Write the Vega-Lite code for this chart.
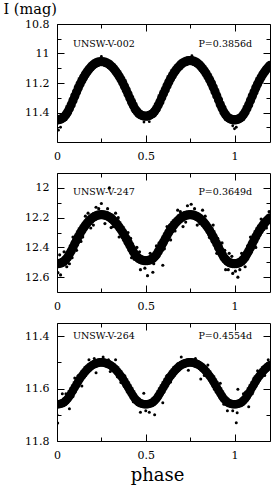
{
"$schema": "https://vega.github.io/schema/vega-lite/v6.json",
"padding": {"left": 2, "top": 0, "right": 4, "bottom": 0},
"bounds": "flush",
"spacing": 31,
"config": {
 "view": {"stroke": "black", "strokeWidth": 1},
 "axis": {"domain": false, "grid": false, "tickColor": "black", "tickWidth": 1, "labelColor": "black", "labelFont": "DejaVu Serif", "labelFontSize": 11, "labelFlush": false, "titleColor": "black", "titleFont": "DejaVu Serif", "titleFontWeight": "normal"},
 "text": {"font": "DejaVu Serif"}
},
"datasets": {
 "core1": [
  {"phase":0,"mag":11.450},{"phase":0.01,"mag":11.449},{"phase":0.02,"mag":11.445},{"phase":0.03,"mag":11.439},{"phase":0.04,"mag":11.430},{"phase":0.05,"mag":11.415},{"phase":0.06,"mag":11.397},{"phase":0.07,"mag":11.373},{"phase":0.08,"mag":11.347},{"phase":0.09,"mag":11.318},{"phase":0.10,"mag":11.289},{"phase":0.11,"mag":11.261},{"phase":0.12,"mag":11.233},{"phase":0.13,"mag":11.207},{"phase":0.14,"mag":11.183},{"phase":0.15,"mag":11.161},{"phase":0.16,"mag":11.140},{"phase":0.17,"mag":11.123},{"phase":0.18,"mag":11.107},{"phase":0.19,"mag":11.093},{"phase":0.20,"mag":11.081},{"phase":0.21,"mag":11.071},{"phase":0.22,"mag":11.064},{"phase":0.23,"mag":11.059},{"phase":0.24,"mag":11.056},{"phase":0.25,"mag":11.055},
  {"phase":0.26,"mag":11.056},{"phase":0.27,"mag":11.059},{"phase":0.28,"mag":11.064},{"phase":0.29,"mag":11.070},{"phase":0.30,"mag":11.079},{"phase":0.31,"mag":11.090},{"phase":0.32,"mag":11.103},{"phase":0.33,"mag":11.118},{"phase":0.34,"mag":11.135},{"phase":0.35,"mag":11.154},{"phase":0.36,"mag":11.174},{"phase":0.37,"mag":11.197},{"phase":0.38,"mag":11.222},{"phase":0.39,"mag":11.248},{"phase":0.40,"mag":11.274},{"phase":0.41,"mag":11.301},{"phase":0.42,"mag":11.328},{"phase":0.43,"mag":11.352},{"phase":0.44,"mag":11.376},{"phase":0.45,"mag":11.392},{"phase":0.46,"mag":11.406},{"phase":0.47,"mag":11.415},{"phase":0.48,"mag":11.421},{"phase":0.49,"mag":11.424},{"phase":0.50,"mag":11.425},
  {"phase":0.51,"mag":11.424},{"phase":0.52,"mag":11.420},{"phase":0.53,"mag":11.414},{"phase":0.54,"mag":11.406},{"phase":0.55,"mag":11.392},{"phase":0.56,"mag":11.375},{"phase":0.57,"mag":11.351},{"phase":0.58,"mag":11.327},{"phase":0.59,"mag":11.299},{"phase":0.60,"mag":11.271},{"phase":0.61,"mag":11.245},{"phase":0.62,"mag":11.218},{"phase":0.63,"mag":11.193},{"phase":0.64,"mag":11.170},{"phase":0.65,"mag":11.149},{"phase":0.66,"mag":11.129},{"phase":0.67,"mag":11.112},{"phase":0.68,"mag":11.097},{"phase":0.69,"mag":11.084},{"phase":0.70,"mag":11.072},{"phase":0.71,"mag":11.063},{"phase":0.72,"mag":11.057},{"phase":0.73,"mag":11.052},{"phase":0.74,"mag":11.049},{"phase":0.75,"mag":11.048},
  {"phase":0.76,"mag":11.049},{"phase":0.77,"mag":11.052},{"phase":0.78,"mag":11.057},{"phase":0.79,"mag":11.064},{"phase":0.80,"mag":11.074},{"phase":0.81,"mag":11.086},{"phase":0.82,"mag":11.101},{"phase":0.83,"mag":11.117},{"phase":0.84,"mag":11.135},{"phase":0.85,"mag":11.156},{"phase":0.86,"mag":11.178},{"phase":0.87,"mag":11.202},{"phase":0.88,"mag":11.229},{"phase":0.89,"mag":11.258},{"phase":0.90,"mag":11.286},{"phase":0.91,"mag":11.316},{"phase":0.92,"mag":11.345},{"phase":0.93,"mag":11.371},{"phase":0.94,"mag":11.397},{"phase":0.95,"mag":11.415},{"phase":0.96,"mag":11.430},{"phase":0.97,"mag":11.439},{"phase":0.98,"mag":11.445},{"phase":0.99,"mag":11.449},{"phase":1.00,"mag":11.450},
  {"phase":1.01,"mag":11.449},{"phase":1.02,"mag":11.445},{"phase":1.03,"mag":11.439},{"phase":1.04,"mag":11.430},{"phase":1.05,"mag":11.415},{"phase":1.06,"mag":11.397},{"phase":1.07,"mag":11.373},{"phase":1.08,"mag":11.347},{"phase":1.09,"mag":11.318},{"phase":1.10,"mag":11.289},{"phase":1.11,"mag":11.261},{"phase":1.12,"mag":11.233},{"phase":1.13,"mag":11.207},{"phase":1.14,"mag":11.183},{"phase":1.15,"mag":11.161},{"phase":1.16,"mag":11.140},{"phase":1.17,"mag":11.123},{"phase":1.18,"mag":11.107},{"phase":1.19,"mag":11.093},{"phase":1.20,"mag":11.081}
 ],
 "scat1": [
  {"phase":0,"mag":11.51},{"phase":0.008,"mag":11.52},{"phase":0.02,"mag":11.50},{"phase":0.49,"mag":11.465},{"phase":0.52,"mag":11.462},{"phase":0.99,"mag":11.49},{"phase":1.0,"mag":11.51},{"phase":1.01,"mag":11.50},{"phase":0.25,"mag":11.02},{"phase":0.76,"mag":11.015}
 ],
 "core2": [
  {"phase":0,"mag":12.510},{"phase":0.01,"mag":12.509},{"phase":0.02,"mag":12.506},{"phase":0.03,"mag":12.501},{"phase":0.04,"mag":12.493},{"phase":0.05,"mag":12.481},{"phase":0.06,"mag":12.466},{"phase":0.07,"mag":12.445},{"phase":0.08,"mag":12.424},{"phase":0.09,"mag":12.400},{"phase":0.10,"mag":12.375},{"phase":0.11,"mag":12.352},{"phase":0.12,"mag":12.329},{"phase":0.13,"mag":12.307},{"phase":0.14,"mag":12.287},{"phase":0.15,"mag":12.268},{"phase":0.16,"mag":12.251},{"phase":0.17,"mag":12.236},{"phase":0.18,"mag":12.223},{"phase":0.19,"mag":12.211},{"phase":0.20,"mag":12.201},{"phase":0.21,"mag":12.194},{"phase":0.22,"mag":12.188},{"phase":0.23,"mag":12.183},{"phase":0.24,"mag":12.181},{"phase":0.25,"mag":12.180},
  {"phase":0.26,"mag":12.181},{"phase":0.27,"mag":12.183},{"phase":0.28,"mag":12.187},{"phase":0.29,"mag":12.193},{"phase":0.30,"mag":12.200},{"phase":0.31,"mag":12.209},{"phase":0.32,"mag":12.221},{"phase":0.33,"mag":12.233},{"phase":0.34,"mag":12.247},{"phase":0.35,"mag":12.263},{"phase":0.36,"mag":12.280},{"phase":0.37,"mag":12.299},{"phase":0.38,"mag":12.320},{"phase":0.39,"mag":12.342},{"phase":0.40,"mag":12.364},{"phase":0.41,"mag":12.386},{"phase":0.42,"mag":12.409},{"phase":0.43,"mag":12.429},{"phase":0.44,"mag":12.449},{"phase":0.45,"mag":12.463},{"phase":0.46,"mag":12.474},{"phase":0.47,"mag":12.481},{"phase":0.48,"mag":12.486},{"phase":0.49,"mag":12.489},{"phase":0.50,"mag":12.490},
  {"phase":0.51,"mag":12.489},{"phase":0.52,"mag":12.486},{"phase":0.53,"mag":12.481},{"phase":0.54,"mag":12.474},{"phase":0.55,"mag":12.463},{"phase":0.56,"mag":12.449},{"phase":0.57,"mag":12.429},{"phase":0.58,"mag":12.409},{"phase":0.59,"mag":12.386},{"phase":0.60,"mag":12.364},{"phase":0.61,"mag":12.342},{"phase":0.62,"mag":12.320},{"phase":0.63,"mag":12.299},{"phase":0.64,"mag":12.280},{"phase":0.65,"mag":12.263},{"phase":0.66,"mag":12.247},{"phase":0.67,"mag":12.233},{"phase":0.68,"mag":12.221},{"phase":0.69,"mag":12.209},{"phase":0.70,"mag":12.200},{"phase":0.71,"mag":12.193},{"phase":0.72,"mag":12.187},{"phase":0.73,"mag":12.183},{"phase":0.74,"mag":12.181},{"phase":0.75,"mag":12.180},
  {"phase":0.76,"mag":12.181},{"phase":0.77,"mag":12.183},{"phase":0.78,"mag":12.188},{"phase":0.79,"mag":12.194},{"phase":0.80,"mag":12.201},{"phase":0.81,"mag":12.211},{"phase":0.82,"mag":12.223},{"phase":0.83,"mag":12.236},{"phase":0.84,"mag":12.251},{"phase":0.85,"mag":12.268},{"phase":0.86,"mag":12.287},{"phase":0.87,"mag":12.307},{"phase":0.88,"mag":12.329},{"phase":0.89,"mag":12.352},{"phase":0.90,"mag":12.375},{"phase":0.91,"mag":12.400},{"phase":0.92,"mag":12.424},{"phase":0.93,"mag":12.445},{"phase":0.94,"mag":12.466},{"phase":0.95,"mag":12.481},{"phase":0.96,"mag":12.493},{"phase":0.97,"mag":12.501},{"phase":0.98,"mag":12.506},{"phase":0.99,"mag":12.509},{"phase":1.00,"mag":12.510},
  {"phase":1.01,"mag":12.509},{"phase":1.02,"mag":12.506},{"phase":1.03,"mag":12.501},{"phase":1.04,"mag":12.493},{"phase":1.05,"mag":12.481},{"phase":1.06,"mag":12.466},{"phase":1.07,"mag":12.445},{"phase":1.08,"mag":12.424},{"phase":1.09,"mag":12.400},{"phase":1.10,"mag":12.375},{"phase":1.11,"mag":12.352},{"phase":1.12,"mag":12.329},{"phase":1.13,"mag":12.307},{"phase":1.14,"mag":12.287},{"phase":1.15,"mag":12.268},{"phase":1.16,"mag":12.251},{"phase":1.17,"mag":12.236},{"phase":1.18,"mag":12.223},{"phase":1.19,"mag":12.211},{"phase":1.20,"mag":12.201}
 ],
 "scat2": [
  {"phase":0.005,"mag":12.57},{"phase":0.02,"mag":12.585},{"phase":0.04,"mag":12.43},{"phase":0.07,"mag":12.51},{"phase":0.09,"mag":12.33},{"phase":0.11,"mag":12.42},{"phase":0.135,"mag":12.36},{"phase":0.16,"mag":12.19},{"phase":0.19,"mag":12.27},{"phase":0.22,"mag":12.13},{"phase":0.25,"mag":12.105},{"phase":0.27,"mag":12.24},{"phase":0.295,"mag":12.0},{"phase":0.305,"mag":12.267},{"phase":0.33,"mag":12.17},{"phase":0.35,"mag":12.33},{"phase":0.376,"mag":12.32},{"phase":0.40,"mag":12.30},{"phase":0.42,"mag":12.47},{"phase":0.45,"mag":12.40},{"phase":0.47,"mag":12.55},{"phase":0.51,"mag":12.59},{"phase":0.54,"mag":12.567},{"phase":0.56,"mag":12.39},{"phase":0.596,"mag":12.52},{"phase":0.62,"mag":12.26},{"phase":0.64,"mag":12.35},{"phase":0.68,"mag":12.15},{"phase":0.71,"mag":12.26},{"phase":0.735,"mag":12.12},{"phase":0.756,"mag":12.11},{"phase":0.79,"mag":12.25},{"phase":0.82,"mag":12.15},{"phase":0.859,"mag":12.333},{"phase":0.88,"mag":12.25},{"phase":0.90,"mag":12.44},{"phase":0.93,"mag":12.37},{"phase":0.95,"mag":12.55},{"phase":0.97,"mag":12.44},{"phase":0.99,"mag":12.575},{"phase":1.019,"mag":12.60},{"phase":1.04,"mag":12.44},{"phase":1.06,"mag":12.53},{"phase":1.09,"mag":12.33},{"phase":1.12,"mag":12.40},{"phase":1.15,"mag":12.21},{"phase":1.18,"mag":12.27},{"phase":1.195,"mag":12.16},
  {"phase":0.015,"mag":12.45},{"phase":0.055,"mag":12.53},{"phase":0.085,"mag":12.47},{"phase":0.125,"mag":12.28},{"phase":0.145,"mag":12.33},{"phase":0.175,"mag":12.17},{"phase":0.205,"mag":12.25},{"phase":0.235,"mag":12.14},{"phase":0.285,"mag":12.14},{"phase":0.315,"mag":12.26},{"phase":0.345,"mag":12.20},{"phase":0.385,"mag":12.37},{"phase":0.415,"mag":12.34},{"phase":0.435,"mag":12.48},{"phase":0.465,"mag":12.43},{"phase":0.495,"mag":12.54},{"phase":0.525,"mag":12.44},{"phase":0.545,"mag":12.51},{"phase":0.575,"mag":12.37},{"phase":0.605,"mag":12.41},{"phase":0.635,"mag":12.25},{"phase":0.665,"mag":12.29},{"phase":0.695,"mag":12.16},{"phase":0.725,"mag":12.23},{"phase":0.775,"mag":12.14},{"phase":0.805,"mag":12.24},{"phase":0.835,"mag":12.19},{"phase":0.875,"mag":12.36},{"phase":0.905,"mag":12.34},{"phase":0.925,"mag":12.47},{"phase":0.945,"mag":12.42},{"phase":0.965,"mag":12.55},{"phase":0.985,"mag":12.46},{"phase":1.005,"mag":12.56},{"phase":1.03,"mag":12.55},{"phase":1.075,"mag":12.39},{"phase":1.105,"mag":12.40},{"phase":1.135,"mag":12.26},{"phase":1.165,"mag":12.28},{"phase":1.185,"mag":12.19}
 ],
 "core3": [
  {"phase":0,"mag":11.660},{"phase":0.01,"mag":11.660},{"phase":0.02,"mag":11.658},{"phase":0.03,"mag":11.656},{"phase":0.04,"mag":11.652},{"phase":0.05,"mag":11.646},{"phase":0.06,"mag":11.639},{"phase":0.07,"mag":11.629},{"phase":0.08,"mag":11.618},{"phase":0.09,"mag":11.607},{"phase":0.10,"mag":11.595},{"phase":0.11,"mag":11.584},{"phase":0.12,"mag":11.572},{"phase":0.13,"mag":11.561},{"phase":0.14,"mag":11.552},{"phase":0.15,"mag":11.543},{"phase":0.16,"mag":11.535},{"phase":0.17,"mag":11.527},{"phase":0.18,"mag":11.521},{"phase":0.19,"mag":11.515},{"phase":0.20,"mag":11.510},{"phase":0.21,"mag":11.507},{"phase":0.22,"mag":11.504},{"phase":0.23,"mag":11.502},{"phase":0.24,"mag":11.500},{"phase":0.25,"mag":11.500},
  {"phase":0.26,"mag":11.500},{"phase":0.27,"mag":11.502},{"phase":0.28,"mag":11.504},{"phase":0.29,"mag":11.507},{"phase":0.30,"mag":11.510},{"phase":0.31,"mag":11.515},{"phase":0.32,"mag":11.521},{"phase":0.33,"mag":11.527},{"phase":0.34,"mag":11.535},{"phase":0.35,"mag":11.543},{"phase":0.36,"mag":11.552},{"phase":0.37,"mag":11.561},{"phase":0.38,"mag":11.572},{"phase":0.39,"mag":11.584},{"phase":0.40,"mag":11.595},{"phase":0.41,"mag":11.607},{"phase":0.42,"mag":11.618},{"phase":0.43,"mag":11.629},{"phase":0.44,"mag":11.639},{"phase":0.45,"mag":11.646},{"phase":0.46,"mag":11.652},{"phase":0.47,"mag":11.656},{"phase":0.48,"mag":11.658},{"phase":0.49,"mag":11.660},{"phase":0.50,"mag":11.660},
  {"phase":0.51,"mag":11.660},{"phase":0.52,"mag":11.658},{"phase":0.53,"mag":11.656},{"phase":0.54,"mag":11.652},{"phase":0.55,"mag":11.646},{"phase":0.56,"mag":11.639},{"phase":0.57,"mag":11.629},{"phase":0.58,"mag":11.618},{"phase":0.59,"mag":11.607},{"phase":0.60,"mag":11.595},{"phase":0.61,"mag":11.584},{"phase":0.62,"mag":11.572},{"phase":0.63,"mag":11.561},{"phase":0.64,"mag":11.552},{"phase":0.65,"mag":11.543},{"phase":0.66,"mag":11.535},{"phase":0.67,"mag":11.527},{"phase":0.68,"mag":11.521},{"phase":0.69,"mag":11.515},{"phase":0.70,"mag":11.510},{"phase":0.71,"mag":11.507},{"phase":0.72,"mag":11.504},{"phase":0.73,"mag":11.502},{"phase":0.74,"mag":11.500},{"phase":0.75,"mag":11.500},
  {"phase":0.76,"mag":11.500},{"phase":0.77,"mag":11.502},{"phase":0.78,"mag":11.504},{"phase":0.79,"mag":11.507},{"phase":0.80,"mag":11.510},{"phase":0.81,"mag":11.515},{"phase":0.82,"mag":11.521},{"phase":0.83,"mag":11.527},{"phase":0.84,"mag":11.535},{"phase":0.85,"mag":11.543},{"phase":0.86,"mag":11.552},{"phase":0.87,"mag":11.561},{"phase":0.88,"mag":11.572},{"phase":0.89,"mag":11.584},{"phase":0.90,"mag":11.595},{"phase":0.91,"mag":11.607},{"phase":0.92,"mag":11.618},{"phase":0.93,"mag":11.629},{"phase":0.94,"mag":11.639},{"phase":0.95,"mag":11.646},{"phase":0.96,"mag":11.652},{"phase":0.97,"mag":11.656},{"phase":0.98,"mag":11.658},{"phase":0.99,"mag":11.660},{"phase":1.00,"mag":11.660},
  {"phase":1.01,"mag":11.660},{"phase":1.02,"mag":11.658},{"phase":1.03,"mag":11.656},{"phase":1.04,"mag":11.652},{"phase":1.05,"mag":11.646},{"phase":1.06,"mag":11.639},{"phase":1.07,"mag":11.629},{"phase":1.08,"mag":11.618},{"phase":1.09,"mag":11.607},{"phase":1.10,"mag":11.595},{"phase":1.11,"mag":11.584},{"phase":1.12,"mag":11.572},{"phase":1.13,"mag":11.561},{"phase":1.14,"mag":11.552},{"phase":1.15,"mag":11.543},{"phase":1.16,"mag":11.535},{"phase":1.17,"mag":11.527},{"phase":1.18,"mag":11.521},{"phase":1.19,"mag":11.515},{"phase":1.20,"mag":11.510}
 ],
 "scat3": [
  {"phase":0.0,"mag":11.70},{"phase":0.004,"mag":11.731},{"phase":0.03,"mag":11.62},{"phase":0.07,"mag":11.677},{"phase":0.10,"mag":11.56},{"phase":0.14,"mag":11.59},{"phase":0.18,"mag":11.49},{"phase":0.22,"mag":11.54},{"phase":0.26,"mag":11.48},{"phase":0.30,"mag":11.535},{"phase":0.33,"mag":11.49},{"phase":0.36,"mag":11.577},{"phase":0.40,"mag":11.58},{"phase":0.446,"mag":11.641},{"phase":0.47,"mag":11.69},{"phase":0.489,"mag":11.618},{"phase":0.52,"mag":11.69},{"phase":0.55,"mag":11.70},{"phase":0.596,"mag":11.654},{"phase":0.62,"mag":11.55},{"phase":0.66,"mag":11.55},{"phase":0.70,"mag":11.48},{"phase":0.74,"mag":11.53},{"phase":0.78,"mag":11.485},{"phase":0.81,"mag":11.564},{"phase":0.85,"mag":11.51},{"phase":0.887,"mag":11.603},{"phase":0.92,"mag":11.58},{"phase":0.96,"mag":11.685},{"phase":1.01,"mag":11.73},{"phase":1.015,"mag":11.692},{"phase":1.019,"mag":11.603},{"phase":1.05,"mag":11.62},{"phase":1.08,"mag":11.669},{"phase":1.11,"mag":11.56},{"phase":1.13,"mag":11.532},{"phase":1.17,"mag":11.55},{"phase":1.19,"mag":11.49},
  {"phase":0.05,"mag":11.62},{"phase":0.09,"mag":11.63},{"phase":0.12,"mag":11.55},{"phase":0.16,"mag":11.55},{"phase":0.21,"mag":11.485},{"phase":0.29,"mag":11.49},{"phase":0.34,"mag":11.555},{"phase":0.38,"mag":11.55},{"phase":0.43,"mag":11.65},{"phase":0.50,"mag":11.685},{"phase":0.58,"mag":11.60},{"phase":0.64,"mag":11.575},{"phase":0.68,"mag":11.505},{"phase":0.83,"mag":11.55},{"phase":0.90,"mag":11.575},{"phase":0.94,"mag":11.66},{"phase":0.99,"mag":11.685},{"phase":1.06,"mag":11.615},{"phase":1.10,"mag":11.62},{"phase":1.16,"mag":11.52}
 ]
},
"vconcat": [
 {
  "width": 213, "height": 118,
  "resolve": {"scale": {"x": "independent", "y": "independent"}},
  "layer": [
   {"data": {"name": "core1"},
    "mark": {"type": "point", "filled": true, "shape": "circle", "size": 85, "opacity": 1, "color": "black", "strokeWidth": 0, "clip": true},
    "encoding": {
     "x": {"field": "phase", "type": "quantitative", "scale": {"domain": [0, 1.2], "nice": false, "zero": false}, "axis": {"orient": "bottom", "values": [0, 0.5, 1], "format": "~g", "tickSize": -7, "labelPadding": 15, "title": null}},
     "y": {"field": "mag", "type": "quantitative", "scale": {"domain": [10.8, 11.6], "reverse": true, "nice": false, "zero": false}, "axis": {"orient": "left", "values": [10.8, 11, 11.2, 11.4], "format": "~g", "tickSize": -7, "labelPadding": 15, "title": "I (mag)", "titleAngle": 0, "titleAlign": "left", "titleBaseline": "alphabetic", "titleX": -54, "titleY": -11, "titleFontSize": 14.5}}
    }},
   {"data": {"name": "scat1"},
    "mark": {"type": "point", "filled": true, "shape": "circle", "size": 8, "opacity": 1, "color": "black", "strokeWidth": 0, "clip": true},
    "encoding": {
     "x": {"field": "phase", "type": "quantitative", "scale": {"domain": [0, 1.2], "nice": false, "zero": false}, "axis": {"orient": "bottom", "values": [0.25, 0.75], "tickSize": -4, "labels": false, "title": null}},
     "y": {"field": "mag", "type": "quantitative", "scale": {"domain": [10.8, 11.6], "reverse": true, "nice": false, "zero": false}, "axis": {"orient": "left", "values": [10.9, 11.1, 11.3, 11.5], "tickSize": -4, "labels": false, "title": null}}
    }},
   {"data": {"values": [{"t": "UNSW-V-002"}]},
    "mark": {"type": "text", "align": "left", "baseline": "alphabetic", "font": "DejaVu Serif", "fontSize": 9.5, "color": "black"},
    "encoding": {
     "text": {"field": "t"},
     "x": {"datum": 0.09, "type": "quantitative", "scale": {"domain": [0, 1.2], "nice": false, "zero": false}, "axis": {"orient": "top", "values": [0, 0.5, 1], "tickSize": -7, "labels": false, "title": null}},
     "y": {"datum": 10.957, "type": "quantitative", "scale": {"domain": [10.8, 11.6], "reverse": true, "nice": false, "zero": false}, "axis": {"orient": "right", "values": [10.8, 11, 11.2, 11.4], "tickSize": -7, "labels": false, "title": null}}
    }},
   {"data": {"values": [{"t": "P=0.3856d"}]},
    "mark": {"type": "text", "align": "left", "baseline": "alphabetic", "font": "DejaVu Serif", "fontSize": 9.5, "color": "black"},
    "encoding": {
     "text": {"field": "t"},
     "x": {"datum": 0.797, "type": "quantitative", "scale": {"domain": [0, 1.2], "nice": false, "zero": false}, "axis": {"orient": "top", "values": [0.25, 0.75], "tickSize": -4, "labels": false, "title": null}},
     "y": {"datum": 10.957, "type": "quantitative", "scale": {"domain": [10.8, 11.6], "reverse": true, "nice": false, "zero": false}, "axis": {"orient": "right", "values": [10.9, 11.1, 11.3, 11.5], "tickSize": -4, "labels": false, "title": null}}
    }}
  ]
 },
 {
  "width": 213, "height": 119,
  "resolve": {"scale": {"x": "independent", "y": "independent"}},
  "layer": [
   {"data": {"name": "core2"},
    "mark": {"type": "point", "filled": true, "shape": "circle", "size": 85, "opacity": 1, "color": "black", "strokeWidth": 0, "clip": true},
    "encoding": {
     "x": {"field": "phase", "type": "quantitative", "scale": {"domain": [0, 1.2], "nice": false, "zero": false}, "axis": {"orient": "bottom", "values": [0, 0.5, 1], "format": "~g", "tickSize": -7, "labelPadding": 15, "title": null}},
     "y": {"field": "mag", "type": "quantitative", "scale": {"domain": [11.9, 12.7], "reverse": true, "nice": false, "zero": false}, "axis": {"orient": "left", "values": [12, 12.2, 12.4, 12.6], "format": "~g", "tickSize": -7, "labelPadding": 15, "title": null}}
    }},
   {"data": {"name": "scat2"},
    "mark": {"type": "point", "filled": true, "shape": "circle", "size": 10, "opacity": 1, "color": "black", "strokeWidth": 0, "clip": true},
    "encoding": {
     "x": {"field": "phase", "type": "quantitative", "scale": {"domain": [0, 1.2], "nice": false, "zero": false}, "axis": {"orient": "bottom", "values": [0.25, 0.75], "tickSize": -4, "labels": false, "title": null}},
     "y": {"field": "mag", "type": "quantitative", "scale": {"domain": [11.9, 12.7], "reverse": true, "nice": false, "zero": false}, "axis": {"orient": "left", "values": [12.1, 12.3, 12.5], "tickSize": -4, "labels": false, "title": null}}
    }},
   {"data": {"values": [{"t": "UNSW-V-247"}]},
    "mark": {"type": "text", "align": "left", "baseline": "alphabetic", "font": "DejaVu Serif", "fontSize": 9.5, "color": "black"},
    "encoding": {
     "text": {"field": "t"},
     "x": {"datum": 0.09, "type": "quantitative", "scale": {"domain": [0, 1.2], "nice": false, "zero": false}, "axis": {"orient": "top", "values": [0, 0.5, 1], "tickSize": -7, "labels": false, "title": null}},
     "y": {"datum": 12.051, "type": "quantitative", "scale": {"domain": [11.9, 12.7], "reverse": true, "nice": false, "zero": false}, "axis": {"orient": "right", "values": [12, 12.2, 12.4, 12.6], "tickSize": -7, "labels": false, "title": null}}
    }},
   {"data": {"values": [{"t": "P=0.3649d"}]},
    "mark": {"type": "text", "align": "left", "baseline": "alphabetic", "font": "DejaVu Serif", "fontSize": 9.5, "color": "black"},
    "encoding": {
     "text": {"field": "t"},
     "x": {"datum": 0.797, "type": "quantitative", "scale": {"domain": [0, 1.2], "nice": false, "zero": false}, "axis": {"orient": "top", "values": [0.25, 0.75], "tickSize": -4, "labels": false, "title": null}},
     "y": {"datum": 12.051, "type": "quantitative", "scale": {"domain": [11.9, 12.7], "reverse": true, "nice": false, "zero": false}, "axis": {"orient": "right", "values": [12.1, 12.3, 12.5], "tickSize": -4, "labels": false, "title": null}}
    }}
  ]
 },
 {
  "width": 213, "height": 118,
  "resolve": {"scale": {"x": "independent", "y": "independent"}},
  "layer": [
   {"data": {"name": "core3"},
    "mark": {"type": "point", "filled": true, "shape": "circle", "size": 75, "opacity": 1, "color": "black", "strokeWidth": 0, "clip": true},
    "encoding": {
     "x": {"field": "phase", "type": "quantitative", "scale": {"domain": [0, 1.2], "nice": false, "zero": false}, "axis": {"orient": "bottom", "values": [0, 0.5, 1], "format": "~g", "tickSize": -7, "labelPadding": 15, "title": "phase", "titleFontSize": 18, "titleX": 100, "titleY": 39, "titleBaseline": "alphabetic", "titleAlign": "center"}},
     "y": {"field": "mag", "type": "quantitative", "scale": {"domain": [11.35, 11.8], "reverse": true, "nice": false, "zero": false}, "axis": {"orient": "left", "values": [11.4, 11.6, 11.8], "format": "~g", "tickSize": -7, "labelPadding": 15, "title": null}}
    }},
   {"data": {"name": "scat3"},
    "mark": {"type": "point", "filled": true, "shape": "circle", "size": 9, "opacity": 1, "color": "black", "strokeWidth": 0, "clip": true},
    "encoding": {
     "x": {"field": "phase", "type": "quantitative", "scale": {"domain": [0, 1.2], "nice": false, "zero": false}, "axis": {"orient": "bottom", "values": [0.25, 0.75], "tickSize": -4, "labels": false, "title": null}},
     "y": {"field": "mag", "type": "quantitative", "scale": {"domain": [11.35, 11.8], "reverse": true, "nice": false, "zero": false}, "axis": {"orient": "left", "values": [11.5, 11.7], "tickSize": -4, "labels": false, "title": null}}
    }},
   {"data": {"values": [{"t": "UNSW-V-264"}]},
    "mark": {"type": "text", "align": "left", "baseline": "alphabetic", "font": "DejaVu Serif", "fontSize": 9.5, "color": "black"},
    "encoding": {
     "text": {"field": "t"},
     "x": {"datum": 0.09, "type": "quantitative", "scale": {"domain": [0, 1.2], "nice": false, "zero": false}, "axis": {"orient": "top", "values": [0, 0.5, 1], "tickSize": -7, "labels": false, "title": null}},
     "y": {"datum": 11.41, "type": "quantitative", "scale": {"domain": [11.35, 11.8], "reverse": true, "nice": false, "zero": false}, "axis": {"orient": "right", "values": [11.4, 11.6, 11.8], "tickSize": -7, "labels": false, "title": null}}
    }},
   {"data": {"values": [{"t": "P=0.4554d"}]},
    "mark": {"type": "text", "align": "left", "baseline": "alphabetic", "font": "DejaVu Serif", "fontSize": 9.5, "color": "black"},
    "encoding": {
     "text": {"field": "t"},
     "x": {"datum": 0.797, "type": "quantitative", "scale": {"domain": [0, 1.2], "nice": false, "zero": false}, "axis": {"orient": "top", "values": [0.25, 0.75], "tickSize": -4, "labels": false, "title": null}},
     "y": {"datum": 11.41, "type": "quantitative", "scale": {"domain": [11.35, 11.8], "reverse": true, "nice": false, "zero": false}, "axis": {"orient": "right", "values": [11.5, 11.7], "tickSize": -4, "labels": false, "title": null}}
    }}
  ]
 }
]
}
